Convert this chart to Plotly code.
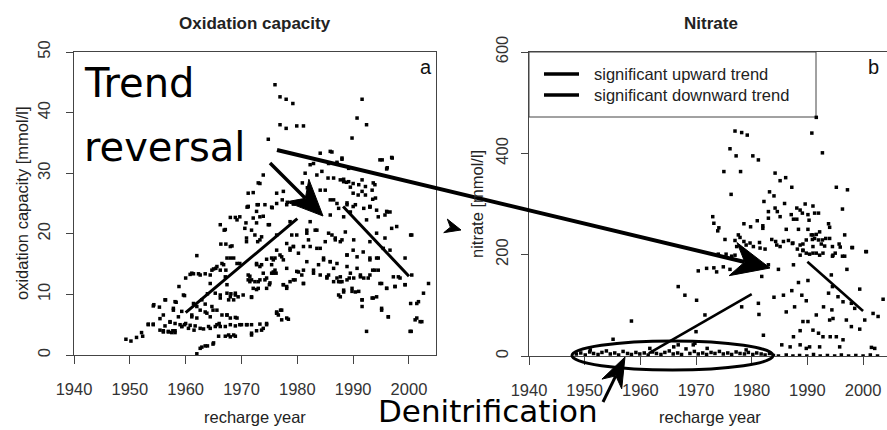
import plotly.graph_objects as go

W, H = 887, 430

# ---------------- data ----------------
# oxidation capacity [mmol/l] vs recharge year : (year, value)
ox_points_low = [
    (1949.3, 2.6), (1950.2, 2.3), (1951.2, 2.9), (1952.3, 3.1), (1952.1, 3.7), (1953.3, 5.1), (1954.2, 5.1),
    (1954.3, 8.3), (1955.3, 7.9), (1955.4, 6.0), (1956.0, 6.6), (1956.4, 9.1), (1956.0, 4.0), (1956.9, 3.9),
    (1957.2, 5.4), (1957.7, 4.0), (1958.1, 3.7), (1957.8, 7.4), (1958.3, 8.7), (1958.8, 11.3), (1958.7, 6.3),
    (1959.3, 7.2), (1959.8, 9.8), (1959.3, 4.7), (1959.8, 5.0), (1960.0, 12.7), (1960.8, 13.3), (1961.4, 13.4),
    (1960.8, 4.9), (1961.1, 6.6), (1961.5, 4.1), (1962.0, 16.4), (1962.0, 0.2), (1962.6, 1.1), (1963.5, 1.5),
    (1965.0, 2.0), (1962.6, 13.2), (1963.5, 8.4), (1963.8, 6.9), (1964.1, 4.7), (1963.2, 4.3), (1964.9, 7.4),
    (1964.4, 11.8), (1964.7, 14.0), (1965.4, 14.3), (1965.6, 5.0), (1966.2, 9.9), (1966.0, 5.2), (1966.2, 21.5),
    (1966.3, 18.3), (1966.8, 14.9), (1966.9, 20.6), (1967.1, 12.9), (1967.4, 11.6), (1967.4, 6.6), (1967.7, 3.3),
    (1968.0, 9.6), (1968.3, 18.0), (1968.6, 16.0), (1968.6, 3.3), (1968.9, 10.2), (1969.2, 6.1), (1969.2, 22.3),
    (1969.7, 15.1), (1970.0, 5.0), (1970.3, 9.9), (1970.6, 20.9), (1970.9, 19.3), (1971.0, 5.0), (1971.2, 13.2),
    (1971.5, 12.1), (1971.8, 9.6), (1971.8, 3.6), (1972.1, 22.6), (1972.4, 19.8), (1972.7, 14.9), (1973.0, 12.1),
    (1973.0, 11.0), (1973.3, 22.8), (1973.3, 19.0), (1973.6, 14.9), (1973.6, 4.1), (1973.9, 13.5), (1974.2, 12.4),
    (1974.5, 5.0), (1974.8, 21.5), (1975.0, 11.6), (1975.4, 16.0), (1975.7, 13.5), (1976.2, 13.5), (1976.3, 6.9),
    (1977.0, 7.4), (1977.2, 5.8), (1977.2, 16.2), (1978.1, 6.1), (1977.5, 11.6), (1978.1, 11.3), (1978.1, 18.4),
    (1978.7, 17.6), (1978.7, 22.0), (1979.3, 17.9), (1979.3, 12.4), (1979.9, 13.8), (1980.2, 16.8), (1980.8, 13.2),
    (1981.1, 17.9), (1981.1, 11.8), (1981.7, 20.6), (1982.0, 19.0), (1982.9, 13.5), (1983.2, 20.6), (1983.5, 17.6),
    (1983.8, 14.9), (1984.1, 17.6), (1984.7, 16.0), (1985.0, 18.7), (1985.3, 12.9), (1985.9, 15.4), (1986.2, 19.8),
    (1986.5, 14.3), (1986.8, 19.3), (1987.1, 12.7), (1987.4, 9.9), (1987.7, 12.1), (1988.0, 19.0), (1988.3, 10.7),
    (1988.9, 16.5), (1988.9, 14.6), (1989.3, 12.7), (1989.8, 10.5), (1990.0, 17.3), (1990.7, 14.3), (1991.0, 10.5),
    (1991.3, 13.2), (1991.6, 9.1), (1991.6, 8.0), (1991.9, 12.7), (1992.4, 3.9), (1992.7, 12.7), (1993.0, 18.7),
    (1993.0, 16.0), (1993.5, 14.0), (1993.6, 9.4), (1994.2, 16.0), (1994.5, 14.0), (1994.8, 11.8), (1995.1, 7.4),
    (1995.4, 17.6), (1995.7, 19.3), (1996.0, 11.0), (1996.3, 6.3), (1996.6, 17.3), (1996.9, 20.9), (1997.2, 12.9),
    (1997.5, 11.3), (1998.1, 12.9), (1999.3, 16.0), (1999.3, 11.6), (2000.3, 19.8), (2000.3, 8.5), (2000.4, 3.9),
    (2000.5, 13.2), (2001.4, 6.1), (2001.7, 8.8), (2002.3, 5.5), (2002.6, 10.2), (2003.5, 11.8),
]
ox_points_high = [
    (1976.0, 44.6), (1976.9, 42.6), (1978.0, 42.2), (1979.2, 41.5), (1976.9, 38.0), (1978.0, 37.4), (1979.9, 37.8),
    (1981.1, 37.8), (1974.8, 35.6), (1991.6, 42.2), (1990.7, 39.1), (1992.4, 38.0), (1989.8, 35.8), (1994.8, 32.2),
    (1996.9, 32.6), (1996.0, 30.7), (1984.1, 33.3), (1985.9, 33.6), (1982.9, 31.6), (1985.6, 31.6), (1987.1, 31.6),
    (1988.0, 32.3), (1989.2, 30.8), (1973.9, 29.7), (1973.3, 28.3), (1972.1, 26.8), (1971.2, 26.7), (1971.2, 24.5),
    (1972.7, 23.7), (1976.3, 26.7), (1977.5, 27.0), (1981.4, 30.0), (1983.5, 29.7), (1984.4, 30.3), (1986.5, 29.2),
    (1988.3, 28.6), (1989.2, 28.6), (1990.0, 28.3), (1991.0, 28.1), (1992.2, 27.8), (1990.0, 26.7), (1991.6, 27.0),
    (1993.9, 28.1), (1986.5, 25.6), (1987.1, 25.0), (1988.9, 24.8), (1990.0, 24.5), (1991.9, 24.2), (1993.0, 24.5),
    (1994.2, 23.9), (1996.0, 23.7), (1993.5, 25.7), (1978.1, 24.8), (1979.3, 24.9), (1976.3, 25.0), (1973.0, 28.4),
    (1971.0, 24.4), (1972.8, 24.8), (1975.5, 24.3), (1977.3, 25.6), (1978.2, 25.2), (1980.9, 28.4), (1981.8, 27.6),
    (1984.1, 27.2), (1985.5, 29.2), (1985.0, 27.2), (1985.9, 25.6), (1987.7, 28.9), (1988.3, 29.0), (1988.8, 28.5),
    (1989.5, 27.7), (1990.9, 26.4), (1991.6, 28.9), (1993.4, 27.2), (1993.6, 28.4), (1994.0, 25.9), (1992.2, 26.4),
    (1990.4, 24.8), (1993.0, 24.4), (1996.1, 23.6), (1988.9, 25.1), (1986.2, 33.5), (1987.1, 31.8), (1988.0, 32.5),
    (1982.3, 31.4), (1995.2, 32.2), (1997.0, 32.5), (1996.1, 30.9),
]
ox_points_mid = [
    (1971.2, 24.5), (1973.0, 24.8), (1974.2, 24.8), (1975.4, 24.4), (1968.0, 22.7), (1968.9, 22.7), (1969.7, 22.8),
    (1967.1, 20.7), (1970.8, 21.8), (1972.7, 21.8), (1973.9, 22.9), (1975.0, 21.5), (1971.8, 20.6), (1973.6, 19.5),
    (1976.3, 19.8), (1967.2, 18.3), (1968.0, 17.9), (1970.9, 18.7), (1972.9, 18.7), (1967.4, 16.0), (1968.0, 16.0),
    (1966.5, 15.1), (1969.2, 15.1), (1965.6, 14.6), (1965.0, 14.2), (1966.2, 14.0), (1967.2, 14.0), (1961.1, 13.5),
    (1962.3, 13.4), (1963.5, 13.4), (1964.4, 13.2), (1972.7, 15.1), (1973.3, 14.6), (1974.5, 15.8), (1975.7, 15.7),
    (1976.0, 14.0), (1971.5, 13.0), (1971.2, 12.4), (1971.8, 12.4), (1972.4, 12.1), (1973.3, 12.4), (1974.5, 12.7),
    (1975.4, 13.5), (1975.1, 11.9), (1972.1, 11.0), (1972.7, 10.8), (1974.5, 11.0), (1971.8, 9.5), (1976.3, 7.1),
    (1976.6, 6.6), (1959.6, 9.9), (1958.1, 8.8), (1962.9, 9.1), (1963.9, 10.1), (1965.3, 10.2), (1966.2, 9.4),
    (1967.4, 10.2), (1968.1, 10.1), (1968.9, 9.9), (1969.4, 9.6), (1967.7, 9.1), (1968.6, 9.1), (1956.3, 9.1),
    (1954.2, 8.1), (1957.8, 7.7), (1961.4, 8.5), (1962.0, 8.0), (1962.6, 7.4), (1963.5, 7.1), (1964.7, 8.0),
    (1965.6, 7.4), (1966.5, 6.6), (1967.4, 6.6), (1968.0, 6.1), (1968.9, 6.2), (1964.4, 6.3), (1962.0, 6.1),
    (1961.1, 6.3), (1960.0, 5.2), (1959.0, 5.0), (1958.1, 5.2), (1957.2, 5.5), (1956.3, 4.8), (1955.4, 4.1),
    (1954.2, 5.0), (1953.3, 5.0), (1956.0, 3.8), (1956.9, 3.8), (1957.5, 3.7), (1958.1, 4.0), (1959.3, 4.7),
    (1960.5, 4.4), (1961.7, 4.8), (1962.6, 4.4), (1964.4, 4.4), (1965.3, 4.7), (1966.2, 4.7), (1967.1, 4.7),
    (1968.0, 5.0), (1968.9, 4.8), (1969.7, 5.0), (1970.9, 5.0), (1971.8, 5.0), (1973.3, 5.1), (1974.5, 5.2),
    (1967.1, 3.1), (1968.0, 3.0), (1968.9, 3.1), (1965.9, 3.1), (1971.8, 3.3), (1972.7, 4.0), (1973.9, 4.4),
    (1962.9, 1.3), (1963.9, 1.5), (1964.9, 1.8),
    (1987.4, 24.2), (1989.5, 23.6), (1985.9, 23.1), (1988.3, 22.8), (1992.4, 22.3), (1993.0, 24.5), (1994.5, 22.8),
    (1995.7, 23.1), (1996.6, 23.6), (1981.7, 20.1), (1983.5, 20.6), (1979.9, 19.8), (1985.6, 20.1), (1986.8, 19.0),
    (1987.7, 18.7), (1988.6, 20.3), (1990.1, 19.0), (1994.2, 20.1), (1997.8, 21.2), (2000.5, 19.8), (1988.9, 16.5),
    (1990.7, 16.2), (1991.8, 17.0), (1993.0, 15.7), (1994.5, 16.0), (1984.7, 15.7), (1985.9, 15.4), (1987.1, 15.1),
    (1981.7, 15.4), (1981.1, 14.0), (1982.9, 14.0), (1984.1, 13.2), (1985.6, 13.2), (1987.7, 12.9), (1989.5, 13.5),
    (1990.1, 12.7), (1991.3, 12.9), (1993.0, 13.2), (1993.9, 14.0), (1995.1, 11.8), (1996.0, 11.0), (1997.5, 11.3),
    (1998.4, 12.7), (1999.3, 11.6), (1985.3, 12.7), (1986.5, 12.1), (1987.4, 12.1), (1988.0, 12.1), (1988.9, 12.4),
    (1987.7, 9.6), (1988.3, 10.4), (1989.8, 11.0), (1990.4, 10.4), (1991.6, 9.1), (1993.4, 9.4), (1994.2, 9.6),
    (1995.1, 7.7), (1996.3, 6.3), (2000.2, 3.9), (2001.1, 5.8), (2002.0, 5.5), (2001.4, 8.5), (1982.3, 22.0),
    (1982.3, 17.9), (1978.7, 17.3), (1979.3, 17.9), (1979.0, 19.8), (1976.3, 17.3), (1976.9, 16.5), (1976.0, 16.0),
    (1977.5, 15.7), (1975.4, 14.9), (1975.7, 13.7), (1978.1, 14.3), (1980.2, 13.7), (1979.6, 12.4), (1981.1, 11.8),
    (1978.7, 12.1), (1977.5, 11.6), (1978.1, 11.0), (1976.3, 6.9), (1977.2, 7.4), (1978.4, 5.9),
]

# nitrate [mmol/l] vs recharge year : (year, value)
no3_points_high = [
    (1991.6, 471), (1977.0, 444), (1978.2, 441), (1979.2, 436), (1990.8, 440), (1976.1, 409), (1977.2, 395),
    (1980.2, 395), (1981.2, 387), (1992.7, 401), (1975.0, 364), (1978.0, 364), (1984.2, 361), (1985.1, 346),
    (1986.1, 352), (1987.2, 333), (1976.3, 319), (1983.2, 324), (1984.0, 316), (1995.2, 333), (1997.2, 328),
    (1982.2, 305), (1985.9, 301), (1984.2, 292), (1984.6, 285), (1983.0, 285), (1988.1, 292), (1988.7, 288),
    (1989.6, 300), (1989.1, 282), (1991.0, 296), (1991.3, 282), (1990.1, 279), (1992.0, 282), (1996.3, 290),
    (1987.1, 279), (1985.1, 275), (1987.5, 270), (1988.1, 270), (1990.3, 268), (1983.0, 272), (1973.0, 275),
    (1973.2, 262), (1974.1, 253), (1973.9, 247), (1978.6, 261), (1979.8, 255), (1981.0, 267), (1982.0, 257),
    (1982.0, 252), (1986.2, 250), (1988.4, 250), (1990.1, 250), (1991.0, 239), (1991.6, 240), (1991.3, 232),
    (1992.2, 245), (1993.8, 261), (1994.0, 254), (1996.7, 239), (1975.2, 230), (1977.6, 239), (1977.9, 234),
    (1977.0, 228), (1977.3, 216), (1978.6, 226), (1979.0, 219), (1980.3, 216), (1981.4, 224), (1982.4, 211),
    (1983.6, 230), (1984.3, 226), (1984.5, 219), (1985.7, 226), (1986.6, 228), (1987.3, 222), (1988.7, 219),
    (1989.2, 221), (1989.8, 229), (1990.7, 239), (1990.9, 230), (1992.0, 229), (1992.7, 229), (1993.3, 232),
    (1994.0, 232), (1992.5, 221), (1993.1, 217), (1991.0, 216), (1991.6, 203), (1992.2, 199), (1995.7, 221),
    (1994.5, 216), (1994.5, 197), (1996.3, 197), (1998.0, 214), (2000.6, 206), (1988.2, 211), (1989.2, 208),
    (1989.8, 203), (1990.4, 201), (1988.7, 199), (1974.0, 201), (1975.4, 201), (1976.4, 197), (1979.7, 223),
    (1981.5, 213), (1987.4, 223), (1989.2, 209), (1991.0, 203), (1992.8, 203), (1994.6, 199), (1995.9, 215),
]
no3_points_mid = [
    (1970.4, 168), (1971.9, 173), (1973.2, 174), (1973.7, 166), (1974.9, 176), (1976.1, 171), (1977.0, 199),
    (1981.8, 157), (1984.8, 171), (1983.0, 180), (1985.1, 216), (1987.5, 180), (1990.1, 149), (1988.4, 145),
    (1987.2, 129), (1985.7, 120), (1984.0, 116), (1989.0, 120), (1989.8, 109), (1993.8, 124), (1994.5, 137),
    (1995.5, 117), (1996.4, 107), (1997.9, 104), (1998.5, 94), (1999.4, 132), (2001.8, 84), (2002.7, 78),
    (2003.6, 112), (1994.3, 160), (1997.1, 171), (1995.0, 203), (1996.7, 197), (1998.1, 214), (2000.5, 206),
    (1981.2, 104), (1981.3, 82), (1978.2, 97), (1971.6, 81), (1970.0, 48), (1966.8, 137), (1968.0, 120),
    (1970.1, 110), (1958.4, 69), (1955.1, 33), (1982.1, 41), (1985.4, 22), (1986.9, 18), (1987.5, 38),
    (1988.7, 50), (1988.7, 22), (1989.8, 15), (1990.4, 18), (1991.0, 51), (1992.0, 45), (1992.2, 18),
    (1992.8, 38), (1994.1, 38), (1995.2, 38), (1994.0, 71), (1991.6, 81), (1990.1, 68), (1986.2, 87),
    (1987.7, 97), (1989.2, 68), (1994.6, 74), (1997.0, 71), (1997.9, 58), (1999.4, 53), (2000.3, 71),
    (2001.5, 17), (2002.1, 15), (1995.8, 18), (1996.4, 32), (1992.9, 97), (1994.4, 91), (1966.8, 22),
    (1969.5, 22), (1961.7, 15), (1969.8, 25),
]
no3_points_low = [
    (1948.5, 4), (1949.3, 6), (1950.1, 2), (1950.9, 8), (1951.6, 5), (1952.4, 3), (1953.1, 7), (1953.9, 10),
    (1954.6, 4), (1955.4, 6), (1956.1, 2), (1956.9, 9), (1957.7, 5), (1958.4, 3), (1959.2, 7), (1959.9, 4),
    (1960.7, 6), (1961.4, 2), (1962.2, 8), (1962.9, 5), (1963.7, 3), (1964.4, 7), (1965.2, 10), (1965.9, 4),
    (1966.7, 6), (1967.4, 3), (1968.2, 14), (1968.9, 5), (1969.7, 9), (1970.4, 4), (1971.2, 6), (1971.9, 3),
    (1972.7, 7), (1973.4, 5), (1974.2, 9), (1974.9, 4), (1975.7, 6), (1976.4, 3), (1977.2, 8), (1977.9, 5),
    (1978.7, 4), (1979.4, 7), (1980.2, 3), (1980.9, 6), (1981.7, 4), (1982.4, 2), (1983.2, 5), (1983.9, 1),
    (1984.8, 0), (1986.2, 2), (1987.4, 0), (1988.6, 1), (1989.9, 0), (1991.1, 3), (1992.3, 0), (1993.6, 1),
    (1994.9, 0), (1996.1, 2), (1997.4, 0), (1998.7, 1), (2000.0, 0), (2001.3, 2), (2002.6, 0),
    (1951.0, 12), (1966.0, 18), (1972.0, 15), (1979.0, 12),
]

# trend lines (start, end)
ox_up_x, ox_up_y = [1960, 1980], [7.0, 22.5]
ox_down_x, ox_down_y = [1988.2, 2000], [24.5, 13.0]
no3_up_x, no3_up_y = [1961.5, 1980], [5, 122]
no3_down_x, no3_down_y = [1990, 2000], [186, 89]

x_ticks = [1940, 1950, 1960, 1970, 1980, 1990, 2000]
ox_ticks = [0, 10, 20, 30, 40, 50]
no3_ticks = [0, 200, 400, 600]

# ---------------- figure ----------------
def px(x):
    return x / W

def py(y):
    return 1 - y / H

ox_all = ox_points_low + ox_points_high + ox_points_mid
no3_all = no3_points_high + no3_points_mid + no3_points_low

fig = go.Figure()
mk = dict(symbol="square", size=3.5, color="black", line=dict(width=0))
fig.add_trace(go.Scatter(x=[p[0] for p in ox_all], y=[p[1] for p in ox_all], mode="markers",
                         marker=mk, xaxis="x", yaxis="y", showlegend=False, cliponaxis=True))
fig.add_trace(go.Scatter(x=[p[0] for p in no3_all], y=[p[1] for p in no3_all], mode="markers",
                         marker=mk, xaxis="x2", yaxis="y2", showlegend=False, cliponaxis=True))
for xs, ys, ax, ay, w in [(ox_up_x, ox_up_y, "x", "y", 3), (ox_down_x, ox_down_y, "x", "y", 3),
                          (no3_up_x, no3_up_y, "x2", "y2", 2.6), (no3_down_x, no3_down_y, "x2", "y2", 2.6)]:
    fig.add_trace(go.Scatter(x=xs, y=ys, mode="lines", line=dict(color="black", width=w),
                             xaxis=ax, yaxis=ay, showlegend=False))

axis_common = dict(showline=True, linecolor="#444", linewidth=1, ticks="outside", tickcolor="#444",
                   tickwidth=1, showgrid=False, zeroline=False, automargin=False,
                   tickfont=dict(family="Liberation Sans, Arial", size=16.5, color="#333"))

fig.update_layout(
    template="none",
    width=W, height=H, autosize=False,
    margin=dict(l=0, r=0, t=0, b=0, pad=0, autoexpand=False),
    paper_bgcolor="white", plot_bgcolor="white",
    xaxis=dict(domain=[px(74), px(436)], range=[1940, 2004.84], tickvals=x_ticks, ticklen=8,
               mirror=True, anchor="y", ticklabelstandoff=11, **axis_common),
    yaxis=dict(domain=[py(355), py(52)], range=[0, 50], tickvals=ox_ticks, ticklen=7, tickangle=-90,
               mirror=True, anchor="x", ticklabelstandoff=9, **axis_common),
    xaxis2=dict(domain=[px(529), 1.0], range=[1940, 2004.3], tickvals=x_ticks, ticklen=8,
                mirror=True, anchor="y2", ticklabelstandoff=11, **axis_common),
    yaxis2=dict(domain=[py(356), py(52)], range=[0, 600], tickvals=no3_ticks, ticklen=7, tickangle=-90,
                mirror=False, anchor="x2", ticklabelstandoff=6, **axis_common),
)

txt_font = dict(family="Liberation Sans, Arial", size=16.5, color="#222")
big_font = dict(family="DejaVu Sans", color="black")

annotations = [
    dict(text="<b>Oxidation capacity</b>", x=px(255), y=py(23), font=dict(family="Liberation Sans, Arial", size=17, color="#222")),
    dict(text="<b>Nitrate</b>", x=px(711), y=py(23), font=dict(family="Liberation Sans, Arial", size=17, color="#222")),
    dict(text="oxidation capacity [mmol/l]", x=px(22), y=py(203), textangle=-90, font=txt_font),
    dict(text="nitrate [mmol/l]", x=px(477), y=py(204), textangle=-90, font=txt_font),
    dict(text="recharge year", x=px(255), y=py(417), font=txt_font),
    dict(text="recharge year", x=px(710), y=py(417), font=txt_font),
    dict(text="a", x=px(426), y=py(67), font=dict(family="Liberation Sans, Arial", size=20, color="#111")),
    dict(text="b", x=px(873), y=py(67), font=dict(family="Liberation Sans, Arial", size=20, color="#111")),
    dict(text="Trend", x=px(82), y=py(83), xanchor="left", font=dict(size=40, **big_font)),
    dict(text="reversal", x=px(82), y=py(147), xanchor="left", font=dict(size=40, **big_font)),
    dict(text="Denitrification", x=px(377), y=0.0, xanchor="left", yanchor="bottom", borderpad=0,
         font=dict(size=31, **big_font)),
    dict(text="significant upward trend", x=px(592), y=py(74), xanchor="left", font=txt_font),
    dict(text="significant downward trend", x=px(592), y=py(95), xanchor="left", font=txt_font),
]
for a in annotations:
    a.setdefault("xanchor", "center")
    a.setdefault("yanchor", "middle")
    a.update(xref="paper", yref="paper", showarrow=False)
fig.update_layout(annotations=annotations)

shapes = []
# legend box and keys
shapes.append(dict(type="rect", xref="paper", yref="paper", x0=px(529), x1=px(816), y0=py(117), y1=py(52),
                   line=dict(color="#444", width=1), fillcolor="white", layer="below"))
for yy in (74, 95):
    shapes.append(dict(type="line", xref="paper", yref="paper", x0=px(544), x1=px(579), y0=py(yy), y1=py(yy),
                       line=dict(color="black", width=3.5)))

# ellipse around denitrified samples
shapes.append(dict(type="circle", xref="paper", yref="paper", x0=px(572), x1=px(773), y0=py(370), y1=py(341),
                   line=dict(color="black", width=3)))


def arrow(tail, tip, L, Wd, notch, lw):
    import math
    dx, dy = tip[0] - tail[0], tip[1] - tail[1]
    d = math.hypot(dx, dy)
    ux, uy = dx / d, dy / d
    nx, ny = -uy, ux
    bx, by = tip[0] - L * ux, tip[1] - L * uy
    b1 = (bx + Wd * nx, by + Wd * ny)
    b2 = (bx - Wd * nx, by - Wd * ny)
    nt = (tip[0] - (L - notch) * ux, tip[1] - (L - notch) * uy)
    out = []
    if lw > 0:
        out.append(dict(type="line", xref="paper", yref="paper", x0=px(tail[0]), y0=py(tail[1]),
                        x1=px(nt[0]), y1=py(nt[1]), line=dict(color="black", width=lw)))
    pts = [tip, b1, nt, b2]
    path = "M " + " L ".join(f"{px(p[0]):.5f},{py(p[1]):.5f}" for p in pts) + " Z"
    out.append(dict(type="path", xref="paper", yref="paper", path=path, fillcolor="black",
                    line=dict(color="black", width=1)))
    return out

shapes += arrow((277, 150), (770, 268), 38, 17, 12, 4)
shapes += arrow((270, 163), (323, 216), 36, 16, 11, 3.5)
shapes += arrow((603, 402), (625, 357), 30, 11, 9, 3)
shapes += arrow((446, 226), (461, 230), 16, 7, 5, 0)

fig.update_layout(shapes=shapes)

fig.write_html("out.html", config={"displayModeBar": False},
               post_script="document.body.style.margin='0';")
